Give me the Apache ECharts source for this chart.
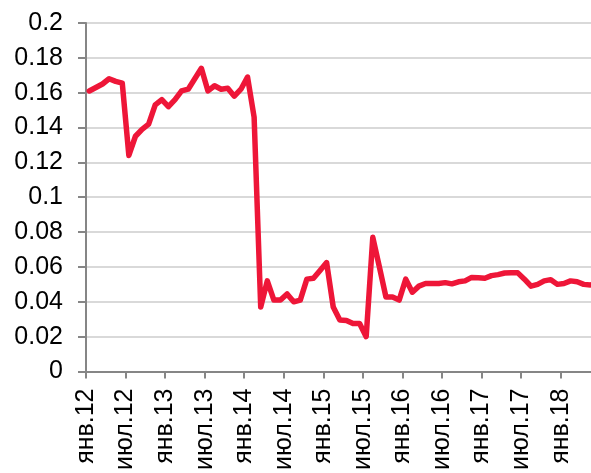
<!DOCTYPE html>
<html>
<head>
<meta charset="utf-8">
<script src="https://cdn.jsdelivr.net/npm/echarts@6/dist/echarts.min.js"></script>
<style>
html,body{margin:0;padding:0;background:#fff;}
#chart{width:591px;height:473px;}
</style>
</head>
<body>
<div id="chart"></div>
<script>
// Tick labels every 6 months, starting January 2012
const tickLabels = ['янв.12','июл.12','янв.13','июл.13','янв.14','июл.14','янв.15','июл.15','янв.16','июл.16','янв.17','июл.17','янв.18'];
const monthsPerTick = 6;
// Monthly values, Jan 2012 onward
const values = [
  0.161, 0.163, 0.165, 0.168, 0.1665, 0.1655, 0.124, 0.135, 0.139, 0.142, 0.153, 0.156,
  0.152, 0.156, 0.161, 0.162, 0.168, 0.174, 0.161, 0.164, 0.162, 0.1625, 0.158, 0.162,
  0.169, 0.146, 0.037, 0.052, 0.041, 0.041, 0.0445, 0.040, 0.041, 0.053, 0.0535, 0.058,
  0.0625, 0.037, 0.0295, 0.0293, 0.0275, 0.0275, 0.020, 0.077, 0.060, 0.0427, 0.0427, 0.041,
  0.053, 0.0455, 0.049, 0.0505, 0.0505, 0.0505, 0.051, 0.0503, 0.0515, 0.052, 0.054, 0.0538,
  0.0535, 0.055, 0.0556, 0.0565, 0.0566, 0.0566, 0.053, 0.049, 0.050, 0.052, 0.0527, 0.050,
  0.0505, 0.052, 0.0515, 0.050, 0.0497, 0.050
];

const chart = echarts.init(document.getElementById('chart'), null, {renderer: 'canvas'});
const font = "'Liberation Sans', Arial, sans-serif";
chart.setOption({
  animation: false,
  backgroundColor: '#ffffff',
  grid: {left: 86, right: 0, top: 23, bottom: 100, containLabel: false},
  xAxis: {
    type: 'value',
    min: 0,
    max: 76.6,
    interval: monthsPerTick,
    axisLine: {show: true, onZero: false, lineStyle: {color: '#868686', width: 2}},
    axisTick: {show: true, length: 7, lineStyle: {color: '#868686', width: 2}},
    splitLine: {show: false},
    axisLabel: {
      rotate: 90,
      margin: 17,
      color: '#000',
      fontSize: 25,
      fontFamily: font,
      padding: [6, 0, 0, 0],
      showMaxLabel: false,
      formatter: function (v) {
        const k = Math.round(v / monthsPerTick);
        if (Math.abs(v - k * monthsPerTick) > 1e-6) return '';
        return tickLabels[k] || '';
      }
    }
  },
  yAxis: {
    type: 'value',
    min: 0,
    max: 0.2,
    interval: 0.02,
    axisLine: {show: true, lineStyle: {color: '#868686', width: 2}},
    axisTick: {show: true, length: 8, lineStyle: {color: '#868686', width: 2}},
    splitLine: {show: true, lineStyle: {color: '#d9d9d9', width: 2}},
    axisLabel: {
      margin: 23,
      color: '#000',
      fontSize: 25,
      fontFamily: font,
      formatter: function (v) { return String(Math.round(v * 100) / 100); }
    }
  },
  series: [{
    type: 'line',
    data: values.map((v, i) => [i + 0.5, v]),
    symbol: 'none',
    smooth: false,
    lineStyle: {color: '#EE1638', width: 5.5, cap: 'round', join: 'round'},
    z: 5
  }]
});
</script>
</body>
</html>
